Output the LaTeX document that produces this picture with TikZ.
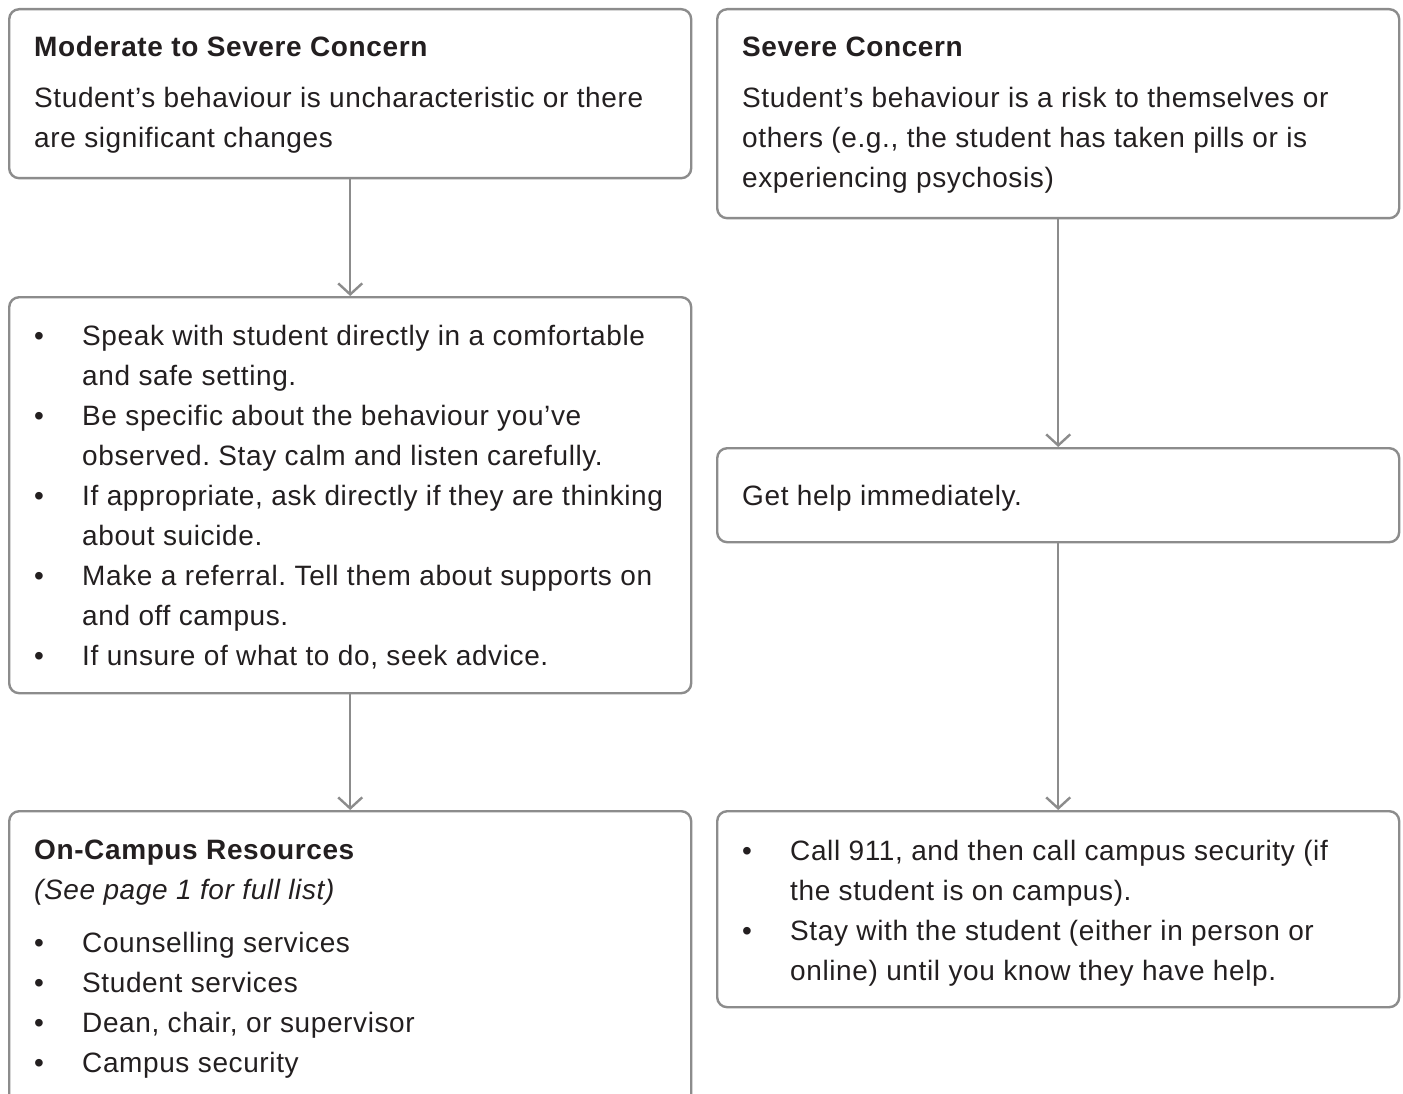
\documentclass[tikz,border=0pt]{standalone}
\usepackage{fontspec}
\setmainfont[LetterSpace=2.2]{Liberation Sans}
\usetikzlibrary{arrows.meta}
\definecolor{frame}{HTML}{8C8C8C}
\definecolor{ink}{HTML}{231F20}
\tikzset{
  box/.style={draw=frame, line width=2.4pt, rounded corners=10pt, fill=white, anchor=north west, inner sep=0pt},
  txt/.style={anchor=base west, inner sep=0pt, text=ink, font=\fontsize{28}{40}\selectfont},
  ttl/.style={txt, font=\fontsize{28}{40}\selectfont\bfseries},
  itl/.style={txt, font=\fontsize{28}{40}\selectfont\itshape},
  bul/.style={txt},
  arr/.style={draw=frame, line width=2.4pt, -{Straight Barb[length=11pt, width=24pt, line width=2.4pt]}}
}
\frenchspacing
\begin{document}
\begin{tikzpicture}[x=1pt, y=-1pt]
\useasboundingbox (0,0) rectangle (1403,1094);
\clip (0,0) rectangle (1403,1094);
% boxes
\node[box, minimum width=682pt, minimum height=169pt] (A) at (8,8) {};
\node[box, minimum width=682pt, minimum height=396pt] (B) at (8,296) {};
\node[box, minimum width=682pt, minimum height=300pt] (C) at (8,810) {};
\node[box, minimum width=682pt, minimum height=209pt] (D) at (716,8) {};
\node[box, minimum width=682pt, minimum height=94pt] (E) at (716,447) {};
\node[box, minimum width=682pt, minimum height=196pt] (F) at (716,810) {};
% arrows
\draw[arr] (A.south) -- (B.north);
\draw[arr] (B.south) -- (C.north);
\draw[arr] (D.south) -- (E.north);
\draw[arr] (E.south) -- (F.north);
% box A
\node[ttl] (a0) at (34,57) {Moderate to Severe Concern};
\node[txt] (a1) at (34,108) {Student’s behaviour is uncharacteristic or there};
\node[txt] (a2) at (34,148) {are significant changes};
% box D
\node[ttl] (d0) at (742,57) {Severe Concern};
\node[txt] (d1) at (742,108) {Student’s behaviour is a risk to themselves or};
\node[txt] (d2) at (742,148) {others (e.g., the student has taken pills or is};
\node[txt] (d3) at (742,188) {experiencing psychosis)};
% box B
\node[bul] (bb1) at (34,345) {•};
\node[txt] (b1) at (82,345) {Speak with student directly in a comfortable};
\node[txt] (b2) at (82,385) {and safe setting.};
\node[bul] (bb2) at (34,425) {•};
\node[txt] (b3) at (82,425) {Be specific about the behaviour you’ve};
\node[txt] (b4) at (82,465) {observed. Stay calm and listen carefully.};
\node[bul] (bb3) at (34,505) {•};
\node[txt] (b5) at (82,505) {If appropriate, ask directly if they are thinking};
\node[txt] (b6) at (82,545) {about suicide.};
\node[bul] (bb4) at (34,585) {•};
\node[txt] (b7) at (82,585) {Make a referral. Tell them about supports on};
\node[txt] (b8) at (82,625) {and off campus.};
\node[bul] (bb5) at (34,665) {•};
\node[txt] (b9) at (82,665) {If unsure of what to do, seek advice.};
% box E
\node[txt] (e1) at (742,505) {Get help immediately.};
% box C
\node[ttl] (c0) at (34,859) {On-Campus Resources};
\node[itl] (c1) at (34,899) {(See page 1 for full list)};
\node[bul] (cb1) at (34,952) {•};
\node[txt] (c2) at (82,952) {Counselling services};
\node[bul] (cb2) at (34,992) {•};
\node[txt] (c3) at (82,992) {Student services};
\node[bul] (cb3) at (34,1032) {•};
\node[txt] (c4) at (82,1032) {Dean, chair, or supervisor};
\node[bul] (cb4) at (34,1072) {•};
\node[txt] (c5) at (82,1072) {Campus security};
% box F
\node[bul] (fb1) at (742,860) {•};
\node[txt] (f1) at (790,860) {Call 911, and then call campus security (if};
\node[txt] (f2) at (790,900) {the student is on campus).};
\node[bul] (fb2) at (742,940) {•};
\node[txt] (f3) at (790,940) {Stay with the student (either in person or};
\node[txt] (f4) at (790,980) {online) until you know they have help.};
\end{tikzpicture}
\end{document}
